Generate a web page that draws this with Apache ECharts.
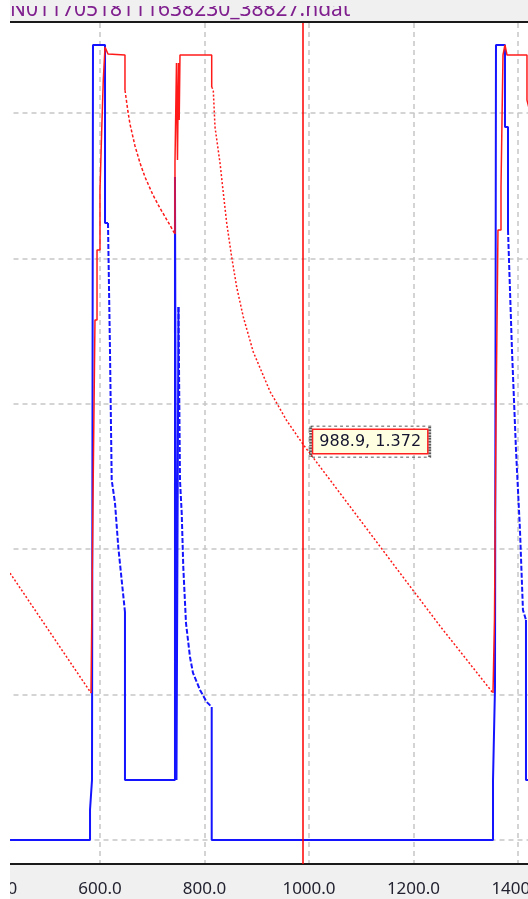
<!DOCTYPE html>
<html>
<head>
<meta charset="utf-8">
<script src="https://cdn.jsdelivr.net/npm/echarts@6/dist/echarts.min.js"></script>
<style>
  html, body { margin: 0; padding: 0; background: #ffffff; }
  #chart { width: 528px; height: 899px; }
</style>
</head>
<body>
<div id="chart"></div>
<script>
// ---- file / axis settings ----
const fileName = 'N01170518111638230_38827.ndat';
const xMin = 400;
const xMax = 1423.0;
const xStep = 200;
const yMin = 1.0835;
const yMax = 1.6619;
const yGridValues = [1.1, 1.2, 1.3, 1.4, 1.5, 1.6];
const cursorPoint = [988.9, 1.372];

// ---- blue trace, split into held (solid) and decaying (dashed) parts ----
const blueHold1 = [[427.8, 1.1], [580.9, 1.1], [580.9, 1.1206], [584.7, 1.1206], [584.7, 1.1413],
  [586.6, 1.1413], [586.6, 1.6468], [609.6, 1.6468], [609.6, 1.5243], [615.3, 1.5243]];
const blueDecay1 = [[615.3, 1.5243], [619.1, 1.437], [622.4, 1.3476], [628.7, 1.3318],
  [635.0, 1.3015], [641.5, 1.2788], [647.8, 1.2568]];
const blueHold2 = [[647.8, 1.2568], [647.8, 1.1413], [743.5, 1.1413], [743.5, 1.556], [746.4, 1.556],
  [746.4, 1.1413], [750.2, 1.1413], [750.2, 1.4666]];
const blueDecay2 = [[750.2, 1.4666], [753.1, 1.3476], [756.4, 1.3249], [759.4, 1.2878], [764.6, 1.2492],
  [772.2, 1.2259], [778.0, 1.2149], [791.4, 1.2032], [804.2, 1.1949], [813.8, 1.1915]];
const blueHold3 = [[813.8, 1.1915], [813.8, 1.1], [1352.2, 1.1], [1352.2, 1.1413], [1356.0, 1.1413],
  [1356.0, 1.2052], [1357.9, 1.2052], [1357.9, 1.6468], [1375.1, 1.6468], [1375.1, 1.5904],
  [1380.9, 1.5904], [1380.9, 1.5195]];
const blueDecay3 = [[1380.9, 1.5195], [1388.5, 1.437], [1396.2, 1.3682], [1403.8, 1.3132],
  [1409.5, 1.2582], [1415.3, 1.2513]];
const blueHold4 = [[1415.3, 1.2513], [1415.3, 1.1413], [1424.0, 1.1413]];

// ---- red trace ----
const redDecay1 = [[427.8, 1.2836], [582.8, 1.2011]];
const redRise1 = [[582.8, 1.2011], [586.6, 1.2004], [586.6, 1.3338], [590.4, 1.3338], [590.4, 1.4576],
  [594.3, 1.4576], [594.3, 1.5058], [600.0, 1.5058], [600.0, 1.547], [603.3, 1.547], [603.3, 1.5883],
  [606.3, 1.5883], [606.3, 1.6227], [609.6, 1.6227], [609.6, 1.6454], [613.4, 1.6454], [615.3, 1.6406],
  [647.8, 1.6399], [647.8, 1.6158]];
const redDecay2 = [[647.8, 1.6158], [653.6, 1.6007], [657.4, 1.5924], [667.0, 1.5773], [676.6, 1.5656],
  [686.1, 1.556], [701.4, 1.5436], [714.8, 1.5346], [728.2, 1.5264], [740.3, 1.5188], [743.5, 1.5167]];
const redRise2 = [[743.5, 1.5167], [743.5, 1.5656], [746.4, 1.5656], [746.4, 1.6344], [748.3, 1.5677],
  [750.2, 1.6344], [751.6, 1.5952], [753.1, 1.6399], [813.8, 1.6399], [813.8, 1.6179]];
const redDecay3 = [[813.8, 1.6179], [816.8, 1.6158], [820.1, 1.5904], [829.7, 1.5656], [835.4, 1.547],
  [842.5, 1.5243], [852.0, 1.501], [861.6, 1.4803], [874.3, 1.4597], [893.4, 1.4356], [925.4, 1.4085],
  [957.3, 1.3885], [988.9, 1.372], [1007.7, 1.3631], [1049.8, 1.3431], [1174.2, 1.2836],
  [1250.7, 1.2472], [1352.2, 1.2011]];
const redRise3 = [[1352.2, 1.2011], [1355.0, 1.2011], [1355.0, 1.2513], [1357.9, 1.2513], [1357.9, 1.3889],
  [1361.7, 1.3889], [1361.7, 1.5195], [1367.5, 1.5195], [1367.5, 1.5491], [1371.3, 1.5491],
  [1371.3, 1.6399], [1375.1, 1.6468], [1379.0, 1.6399], [1417.2, 1.6399], [1417.2, 1.6089],
  [1424.0, 1.599]];

const BLUE = '#1414ff';
const RED = '#ff1a1a';
const GRID_GRAY = '#c6c6c6';

function trace(data, color, width, dash, z) {
  return {
    type: 'line',
    data: data,
    symbol: 'none',
    showSymbol: false,
    animation: false,
    silent: true,
    z: z,
    lineStyle: { color: color, width: width, type: dash || 'solid' },
    clip: true
  };
}

const series = [
  trace(blueHold1, BLUE, 2, null, 2),
  trace(blueDecay1, BLUE, 2, [5, 2], 2),
  trace(blueHold2, BLUE, 2, null, 2),
  trace(blueDecay2, BLUE, 2, [5, 2], 2),
  trace(blueHold3, BLUE, 2, null, 2),
  trace(blueDecay3, BLUE, 2, [5, 2], 2),
  trace(blueHold4, BLUE, 2, null, 2),
  trace(redDecay1, RED, 1.5, [2, 2], 3),
  trace(redRise1, RED, 1.5, null, 3),
  trace(redDecay2, RED, 1.5, [3, 2], 3),
  trace(redRise2, RED, 1.5, null, 3),
  trace(redDecay3, RED, 1.5, [2, 2], 3),
  trace(redRise3, RED, 1.5, null, 3)
];

// horizontal dashed grid lines
series[0].markLine = {
  silent: true,
  z: 1,
  symbol: ['none', 'none'],
  animation: false,
  label: { show: false },
  lineStyle: { color: GRID_GRAY, width: 1.5, type: [5, 4] },
  data: yGridValues.map(v => ({ yAxis: v }))
};

// cursor line and its read-out box
series[11].markLine = {
  silent: true,
  z: 6,
  symbol: ['none', 'none'],
  animation: false,
  label: { show: false },
  lineStyle: { color: '#ff0000', width: 1.5, type: 'solid' },
  data: [{ xAxis: cursorPoint[0] }]
};
series[11].markPoint = {
  silent: true,
  z: 7,
  animation: false,
  data: [{
    coord: cursorPoint,
    symbol: 'rect',
    symbolSize: [119, 31],
    symbolOffset: [67, -3],
    itemStyle: { color: 'rgba(0,0,0,0)', borderColor: '#222222', borderWidth: 1.5, borderType: [1.5, 1.5] },
    label: {
      show: true,
      position: 'inside',
      formatter: cursorPoint[0].toFixed(1) + ', ' + cursorPoint[1].toFixed(3),
      fontFamily: 'DejaVu Sans',
      fontSize: 16,
      lineHeight: 18,
      color: '#141430',
      backgroundColor: '#ffffe1',
      borderColor: '#ff2020',
      borderWidth: 1.5,
      padding: [3, 6, 2, 6]
    }
  }]
};

const chart = echarts.init(document.getElementById('chart'), null, { renderer: 'canvas' });
chart.setOption({
  backgroundColor: '#ffffff',
  animation: false,
  grid: { left: -4.5, right: -2, top: 23, bottom: 35, containLabel: false, outerBoundsMode: 'none' },
  xAxis: {
    type: 'value',
    min: xMin,
    max: xMax,
    interval: xStep,
    axisLine: { show: true, onZero: false, lineStyle: { color: '#1a1a1a', width: 2 } },
    axisTick: { show: false },
    axisLabel: {
      margin: 17,
      fontFamily: 'Noto Sans',
      fontSize: 17,
      color: '#222230',
      formatter: v => (Math.abs(v % xStep) < 1e-6 ? v.toFixed(1) : '')
    },
    splitLine: { show: true, lineStyle: { color: GRID_GRAY, width: 1.5, type: [5, 4] } }
  },
  yAxis: {
    type: 'value',
    min: yMin,
    max: yMax,
    show: false
  },
  series: series,
  graphic: [
    { type: 'rect', z: -1, shape: { x: 0, y: 865, width: 528, height: 34 }, style: { fill: '#f0f0f0' } },
    { type: 'rect', z: 10, shape: { x: 0, y: 0, width: 528, height: 21 }, style: { fill: '#f0f0f0' } },
    { type: 'text', z: 11, style: { x: 10, y: 10, text: fileName, font: '21px "Noto Sans"', fill: '#80208f', verticalAlign: 'middle', align: 'left' } },
    { type: 'rect', z: 12, shape: { x: 0, y: 0, width: 528, height: 6 }, style: { fill: '#f0f0f0' } },
    { type: 'rect', z: 12, shape: { x: 0, y: 21, width: 528, height: 2 }, style: { fill: '#1a1a1a' } },
    { type: 'rect', z: 100, shape: { x: 0, y: 0, width: 10, height: 899 }, style: { fill: '#ffffff' } }
  ]
});
</script>
</body>
</html>
